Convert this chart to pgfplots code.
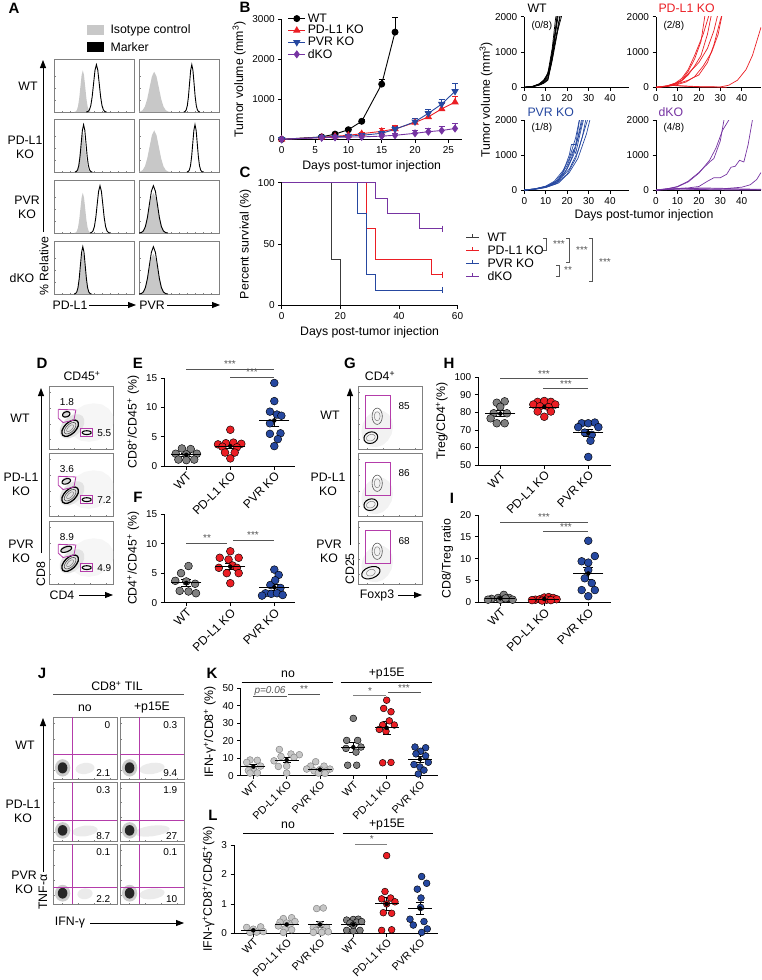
\documentclass[border=0pt]{standalone}
\usepackage{pgfplots}
\pgfplotsset{compat=1.18}
\usepackage{pgfplotstable}
\usepackage{fontspec}
\setmainfont{Liberation Sans}
\usetikzlibrary{arrows.meta}

\definecolor{kored}{RGB}{235,30,36}
\definecolor{koblue}{RGB}{38,72,160}
\definecolor{kopurp}{RGB}{118,52,162}
\definecolor{gatec}{RGB}{180,60,170}
\definecolor{isog}{RGB}{200,200,200}
\definecolor{wtg}{RGB}{128,128,128}
\definecolor{nog}{RGB}{198,198,198}
\definecolor{sigg}{RGB}{85,85,85}
\definecolor{survwt}{RGB}{60,60,60}

\newcommand{\fT}{\fontsize{10}{11}\selectfont}
\newcommand{\fA}{\fontsize{12.3}{14}\selectfont}
\newcommand{\fC}{\fontsize{12}{13}\selectfont}
\newcommand{\fS}{\fontsize{10.8}{12}\selectfont}
\newcommand{\fN}{\fontsize{10}{11}\selectfont}
\newcommand{\fP}{\fontsize{15}{17}\selectfont\bfseries}

\pgfplotstableread{
t y
-3.6 0
-3 0.011
-2.5 0.044
-2 0.135
-1.5 0.325
-1 0.607
-0.5 0.882
0 1
0.5 0.882
1 0.607
1.5 0.325
2 0.135
2.5 0.044
3 0.011
3.6 0
}\peak

\pgfplotstableread{
u v
1 0
0.92 0.38
0.71 0.71
0.38 0.92
0 1
-0.38 0.92
-0.71 0.71
-0.92 0.38
-1 0
-0.92 -0.38
-0.71 -0.71
-0.38 -0.92
0 -1
0.38 -0.92
0.71 -0.71
0.92 -0.38
1 0
}\blob

\pgfplotsset{
 prism/.style={scale only axis, axis lines=left, axis line style={-, line width=0.75pt},
  tick align=outside, major tick length=3.5pt, tick style={black, line width=0.7pt},
  ticklabel style={font=\fT}, label style={font=\fA},
  /pgf/number format/assume math mode=true, /pgf/number format/1000 sep={}, clip=false},
 hist/.style={scale only axis, width=80pt, height=53pt, xmin=0, xmax=1, ymin=0, ymax=1.12,
  axis line style={draw=gray, line width=0.5pt}, xtick={0.1,0.2,...,0.9}, ytick={0.25,0.5,0.75},
  xticklabels={}, yticklabels={}, tick align=inside, major tick length=1.5pt,
  tick style={gray, line width=0.4pt}, xtick pos=bottom, ytick pos=left},
 flow/.style={scale only axis, xmin=0, xmax=1, ymin=0, ymax=1,
  axis line style={draw=gray, line width=0.5pt}, xtick={0.15,0.4,0.65,0.9}, ytick={0.15,0.4,0.65,0.9},
  xticklabels={}, yticklabels={}, tick align=inside, major tick length=1.5pt,
  tick style={gray, line width=0.4pt}, xtick pos=bottom, ytick pos=left},
 dot/.style 2 args={only marks, mark=*, mark size=3.9pt, mark options={fill=#1, draw=#2, line width=0.45pt}},
 sdot/.style 2 args={only marks, mark=*, mark size=3.4pt, mark options={fill=#1, draw=#2, line width=0.45pt}},
 spag/.style={prism, clip=true, clip mode=individual, width=105pt, xmin=0, xmax=49, ymin=0, ymax=2000,
  xtick={0,10,...,40}, ytick={0,1000,2000}},
 cat/.style={prism, xtick={0,1,2}, xticklabels={WT,PD-L1 KO,PVR KO},
  xticklabel style={rotate=45, anchor=north east, font=\fC, inner sep=1pt}},
 cat6/.style={prism, xtick={0,1,2,3,4,5}, xticklabels={WT,PD-L1 KO,PVR KO,WT,PD-L1 KO,PVR KO},
  xticklabel style={rotate=45, anchor=north east, font=\fS, inner sep=0.5pt}},
}

\newcommand{\blobp}[6]{\addplot[#6] table[x expr={#1+#3*\thisrow{u}*cos(#5)-#4*\thisrow{v}*sin(#5)}, y expr={#2+#3*\thisrow{u}*sin(#5)+#4*\thisrow{v}*cos(#5)}]{\blob};}

\newcommand{\histo}[7]{%
\begin{axis}[hist, at={(#1pt,-#2pt)}, anchor=north west]
\addplot[fill=isog, draw=none] table[x expr={#3+#4*\thisrow{t}}, y expr={#7*\thisrow{y}}]{\peak};
\addplot[black, line width=0.9pt] table[x expr={#5+#6*\thisrow{t}}, y=y]{\peak};
\end{axis}}

\newcommand{\msem}[5]{%
\addplot[black, only marks, mark=-, mark size=#4pt, mark options={line width=0.9pt}] coordinates {(#1,#2)};
\addplot[black, only marks, mark=none, error bars/.cd, y dir=both, y explicit, error bar style={line width=0.8pt}, error mark options={rotate=90, mark size=#5pt, line width=0.8pt}] coordinates {(#1,#2) +- (0,#3)};}

\newcommand{\dbox}[4]{%
\begin{axis}[flow, at={(49pt,-#1pt)}, anchor=north west, width=64pt, height=63pt]
\blobp{0.66}{0.42}{0.36}{0.3}{20}{fill=gray!7, draw=none}
\blobp{0.36}{0.36}{0.23}{0.15}{45}{fill=gray!22, draw=none}
\blobp{0.27}{0.56}{#4}{0.055}{20}{fill=gray!30, draw=none}
\blobp{0.33}{0.33}{0.16}{0.09}{45}{black, line width=1.3pt, smooth}
\blobp{0.33}{0.33}{0.115}{0.06}{45}{gray!60!black, line width=0.6pt, smooth}
\blobp{0.33}{0.33}{0.07}{0.032}{45}{gray, line width=0.5pt, smooth}
\blobp{0.27}{0.55}{#4}{0.04}{20}{black, line width=1.1pt, smooth}
\blobp{0.59}{0.26}{0.07}{0.03}{0}{black, line width=1.1pt, smooth}
\addplot[gatec, line width=0.8pt] coordinates {(0.145,0.63)(0.42,0.62)(0.39,0.46)(0.22,0.42)(0.145,0.49)(0.145,0.63)};
\addplot[gatec, line width=0.8pt] coordinates {(0.495,0.195)(0.68,0.195)(0.68,0.33)(0.495,0.33)(0.495,0.195)};
\node[font=\fN] at (axis cs:0.28,0.74) {#2};
\node[font=\fN, anchor=west] at (axis cs:0.7,0.26) {#3};
\end{axis}}

\newcommand{\gbox}[3]{%
\begin{axis}[flow, at={(358pt,-#1pt)}, anchor=north west, width=64pt, height=63pt]
\blobp{0.3}{0.32}{0.3}{0.24}{70}{fill=gray!10, draw=none}
\blobp{0.2}{0.18}{#3}{0.09}{20}{black, line width=1pt, smooth}
\blobp{0.2}{0.18}{0.07}{0.05}{20}{gray, line width=0.5pt, smooth}
\blobp{0.3}{0.52}{0.08}{0.13}{0}{gray!70!black, line width=0.6pt, smooth}
\blobp{0.3}{0.52}{0.045}{0.07}{0}{gray, line width=0.5pt, smooth}
\addplot[gatec, line width=0.8pt] coordinates {(0.12,0.32)(0.5,0.32)(0.5,0.85)(0.12,0.85)(0.12,0.32)};
\node[font=\fN] at (axis cs:0.72,0.68) {#2};
\end{axis}}

\newcommand{\jbox}[7]{%
\begin{axis}[flow, at={(#1pt,-#2pt)}, anchor=north west, width=64pt, height=#3pt]
\blobp{0.5}{0.17}{#7}{0.09}{8}{fill=gray!16, draw=none}
\blobp{0.15}{0.18}{0.12}{0.14}{0}{fill=gray!40, draw=none}
\blobp{0.15}{0.18}{0.075}{0.09}{0}{fill=black!85, draw=none}
\addplot[gatec, line width=0.8pt] coordinates {(0.3,0)(0.3,1)};
\addplot[gatec, line width=0.8pt] coordinates {(0,#4)(1,#4)};
\node[font=\fN, anchor=east] at (axis cs:0.95,0.87) {#5};
\node[font=\fN, anchor=east] at (axis cs:0.95,0.09) {#6};
\end{axis}}

\begin{document}
\begin{tikzpicture}[font=\fA]
\path[use as bounding box] (0pt,0pt) rectangle (761pt,-980pt);

% ---------------- A histograms
\histo{54}{59}{0.36}{0.03}{0.53}{0.035}{0.88}
\histo{139}{59}{0.19}{0.058}{0.66}{0.028}{0.85}
\histo{54}{119}{0.36}{0.03}{0.37}{0.03}{0.85}
\histo{139}{119}{0.19}{0.058}{0.70}{0.028}{0.88}
\histo{54}{180}{0.36}{0.03}{0.575}{0.035}{0.85}
\histo{139}{180}{0.18}{0.055}{0.18}{0.05}{0.85}
\histo{54}{241}{0.36}{0.03}{0.36}{0.03}{0.9}
\histo{139}{241}{0.18}{0.055}{0.18}{0.05}{0.85}

% ---------------- B main
\begin{axis}[prism, at={(281.7pt,-139.3pt)}, anchor=south west, width=180pt, height=120pt,
 xmin=0, xmax=27, ymin=0, ymax=3000, xtick={0,5,...,25}, ytick={0,1000,2000,3000},
 xlabel={Days post-tumor injection}, ylabel={Tumor volume (mm\textsuperscript{3})},
 legend style={at={(0.03,1.07)}, anchor=north west, draw=none, fill=none, font=\fA, row sep=-2.2pt, inner sep=0.5pt},
 legend cell align=left]
\addplot[black, line width=0.9pt, mark=*, mark size=3pt, error bars/.cd, y dir=plus, y explicit, error bar style={black,line width=0.8pt}, error mark options={rotate=90, mark size=3pt, black}]
 coordinates {(0,0) +- (0,0) (6,60) +- (0,15) (8,130) +- (0,25) (10,240) +- (0,40) (12,450) +- (0,50) (15,1380) +- (0,120) (17,2680) +- (0,370)};
\addplot[kored, line width=0.9pt, mark=triangle*, mark size=3.4pt, error bars/.cd, y dir=plus, y explicit, error bar style={kored,line width=0.8pt}, error mark options={rotate=90, mark size=3pt, kored}]
 coordinates {(0,0) +- (0,0) (6,50) +- (0,15) (8,75) +- (0,25) (10,100) +- (0,35) (12,140) +- (0,45) (15,200) +- (0,70) (17,260) +- (0,90) (20,420) +- (0,110) (22,560) +- (0,110) (24,760) +- (0,140) (26,930) +- (0,160)};
\addplot[koblue, line width=0.9pt, mark=triangle*, mark size=3.4pt, mark options={rotate=180}, error bars/.cd, y dir=plus, y explicit, error bar style={koblue,line width=0.8pt}, error mark options={rotate=90, mark size=3pt, koblue}]
 coordinates {(0,0) +- (0,0) (6,50) +- (0,20) (8,60) +- (0,25) (10,80) +- (0,30) (12,100) +- (0,40) (15,150) +- (0,50) (17,250) +- (0,70) (20,440) +- (0,90) (22,650) +- (0,110) (24,880) +- (0,130) (26,1200) +- (0,200)};
\addplot[kopurp, line width=0.9pt, mark=diamond*, mark size=3.4pt, error bars/.cd, y dir=plus, y explicit, error bar style={kopurp,line width=0.8pt}, error mark options={rotate=90, mark size=3pt, kopurp}]
 coordinates {(0,0) +- (0,0) (6,40) +- (0,15) (8,50) +- (0,20) (10,55) +- (0,30) (12,60) +- (0,40) (15,80) +- (0,50) (17,100) +- (0,60) (20,150) +- (0,80) (22,190) +- (0,100) (24,220) +- (0,120) (26,270) +- (0,130)};
\legend{WT, PD-L1 KO, PVR KO, dKO}
\end{axis}

% ---------------- B spaghetti
\begin{axis}[spag, at={(524.3pt,-87.3pt)}, anchor=south west, height=70.6pt]
\addplot[black, line width=0.7pt] coordinates {(0,0)(4,20)(7,80)(9,150)(11,300)(13,900)(14.5,1500)(16,2100)};
\addplot[black, line width=0.7pt] coordinates {(0,0)(4,25)(7,90)(9,170)(11,350)(13,1000)(15,1800)(16,2300)};
\addplot[black, line width=0.7pt] coordinates {(0,0)(4,15)(7,70)(9,130)(11,250)(12.5,700)(14,1300)(15.5,2100)};
\addplot[black, line width=0.7pt] coordinates {(0,0)(4,30)(7,100)(9,200)(11,400)(13,1100)(14.5,1900)(15,2100)};
\addplot[black, line width=0.7pt] coordinates {(0,0)(4,20)(7,60)(9,110)(11,200)(13,750)(15,1400)(17,2100)};
\addplot[black, line width=0.7pt] coordinates {(0,0)(4,18)(7,75)(9,120)(11,230)(13,800)(15,1500)(16.5,2000)(17,2200)};
\addplot[black, line width=0.7pt] coordinates {(0,0)(4,22)(7,85)(9,160)(12,500)(14,1200)(16,1700)(18,2150)};
\addplot[black, line width=0.7pt] coordinates {(0,0)(4,26)(7,95)(10,250)(12,600)(14,1400)(15.5,2100)};
\end{axis}
\begin{axis}[spag, at={(656pt,-87.3pt)}, anchor=south west, height=70.6pt]
\addplot[kored, line width=0.7pt] coordinates {(0,0)(5,30)(9,100)(12,200)(15,450)(18,800)(21,1300)(23,2100)};
\addplot[kored, line width=0.7pt] coordinates {(0,0)(5,40)(9,120)(12,250)(15,500)(18,900)(22,1500)(25,2100)};
\addplot[kored, line width=0.7pt] coordinates {(0,0)(5,25)(9,90)(12,180)(15,350)(18,600)(21,900)(24,1500)(26,2100)};
\addplot[kored, line width=0.7pt] coordinates {(0,0)(5,35)(9,110)(12,200)(16,450)(20,700)(24,1100)(27,1600)(29,2100)};
\addplot[kored, line width=0.7pt] coordinates {(0,0)(5,20)(10,80)(14,150)(18,300)(22,600)(26,1000)(29,1500)(31,2100)};
\addplot[kored, line width=0.7pt] coordinates {(0,0)(5,30)(10,100)(15,200)(20,350)(24,700)(27,1200)(30,1900)(31,2100)};
\addplot[kored, line width=0.7pt] coordinates {(0,0)(8,60)(12,40)(20,20)(30,10)(34,60)(38,200)(42,500)(45,900)(49,1700)};
\addplot[kored, line width=0.7pt] coordinates {(0,0)(8,50)(14,30)(20,10)(30,5)(33,0)};
\end{axis}
\begin{axis}[spag, at={(524.3pt,-190pt)}, anchor=south west, height=70pt]
\addplot[koblue, line width=0.7pt] coordinates {(0,0)(5,30)(10,90)(14,200)(18,500)(21,1000)(22,1300)(24,1300)(26,2100)};
\addplot[koblue, line width=0.7pt] coordinates {(0,0)(5,35)(10,110)(14,250)(18,550)(21,900)(24,1500)(26,2100)};
\addplot[koblue, line width=0.7pt] coordinates {(0,0)(5,25)(10,80)(15,200)(19,500)(22,900)(25,1500)(27,2100)};
\addplot[koblue, line width=0.7pt] coordinates {(0,0)(5,30)(10,100)(15,230)(20,600)(23,1000)(26,1700)(27.5,2100)};
\addplot[koblue, line width=0.7pt] coordinates {(0,0)(5,20)(10,70)(15,180)(20,450)(24,900)(27,1500)(29,2100)};
\addplot[koblue, line width=0.7pt] coordinates {(0,0)(5,28)(10,95)(16,250)(21,600)(25,1100)(28,1700)(30,2100)};
\addplot[koblue, line width=0.7pt] coordinates {(0,0)(5,22)(10,75)(16,200)(21,500)(25,900)(29,1600)(31,2100)};
\addplot[koblue, line width=0.7pt] coordinates {(0,0)(5,30)(11,120)(16,300)(20,700)(23,1150)(24,1050)(26,1600)(28,2100)};
\end{axis}
\begin{axis}[spag, at={(656pt,-190pt)}, anchor=south west, height=70pt]
\addplot[kopurp, line width=0.7pt] coordinates {(0,0)(5,30)(10,100)(15,250)(20,500)(25,800)(27,900)(30,1400)(32,2100)};
\addplot[kopurp, line width=0.7pt] coordinates {(0,0)(5,25)(10,90)(15,230)(20,480)(25,850)(28,1200)(31,1700)(35,2100)};
\addplot[kopurp, line width=0.7pt] coordinates {(0,0)(5,20)(10,40)(15,60)(20,100)(24,250)(27,350)(30,350)(33,450)(35,650)(37,680)(39,850)(41,800)(43,1300)(45,2000)(45.5,2100)};
\addplot[kopurp, line width=0.7pt] coordinates {(0,0)(10,30)(20,20)(30,30)(36,60)(40,80)(44,150)(47,300)(49,500)};
\addplot[kopurp, line width=0.7pt] coordinates {(0,0)(8,60)(15,20)(25,10)(35,0)(49,0)};
\addplot[kopurp, line width=0.7pt] coordinates {(0,0)(10,20)(20,60)(30,50)(40,30)(49,20)};
\addplot[kopurp, line width=0.7pt] coordinates {(0,0)(12,50)(20,40)(35,20)(49,10)};
\end{axis}

% ---------------- C survival
\begin{axis}[prism, at={(281.7pt,-305.3pt)}, anchor=south west, width=175.8pt, height=122.6pt,
 xmin=0, xmax=60, ymin=0, ymax=100, xtick={0,20,40,60}, ytick={0,50,100},
 xlabel={Days post-tumor injection}, ylabel={Percent survival (\%)}]
\addplot[survwt, line width=0.9pt, const plot] coordinates {(0,100)(17,37.5)(20,0)};
\addplot[kored, line width=0.9pt, const plot] coordinates {(0,100)(29,62.5)(32,37.5)(51,25)(55,25)};
\addplot[koblue, line width=0.9pt, const plot] coordinates {(0,100)(26,75)(29,25)(32,12.5)(55,12.5)};
\addplot[kopurp, line width=0.9pt, const plot] coordinates {(0,100)(32,87.5)(36,75)(47,62.5)(55,62.5)};
\addplot[kored, only marks, mark=|, mark size=3pt, mark options={line width=0.8pt}] coordinates {(55,25)};
\addplot[koblue, only marks, mark=|, mark size=3pt, mark options={line width=0.8pt}] coordinates {(55,12.5)};
\addplot[kopurp, only marks, mark=|, mark size=3pt, mark options={line width=0.8pt}] coordinates {(55,62.5)};
\end{axis}

% ---------------- D, G flow
\dbox{386}{1.8}{5.5}{0.06}
\dbox{453}{3.6}{7.2}{0.07}
\dbox{521}{8.9}{4.9}{0.09}
\gbox{386}{85}{0.11}
\gbox{453}{86}{0.11}
\gbox{521}{68}{0.15}

% ---------------- E
\begin{axis}[cat, at={(164.3pt,-466pt)}, anchor=south west, width=130.7pt, height=87.7pt,
 xmin=-0.5, xmax=2.47, ymin=0, ymax=15, ytick={0,5,10,15},
 ylabel={CD8\textsuperscript{+}/CD45\textsuperscript{+} (\%)}]
\addplot[dot={wtg}{black}] coordinates {(-0.10,3.0)(0.10,2.9)(-0.24,2.1)(0.0,2.0)(0.24,2.1)(-0.18,1.1)(0.0,1.0)(0.18,1.1)};
\addplot[dot={kored}{black}] coordinates {(1.0,6.2)(0.72,3.7)(0.9,3.9)(1.07,4.0)(1.25,3.8)(0.82,3.3)(1.15,3.2)(0.88,2.3)(1.1,2.3)(1.0,1.3)};
\addplot[dot={koblue}{black}] coordinates {(2.0,14.2)(2.0,11.1)(1.9,9.3)(2.06,8.8)(2.16,8.6)(1.9,7.3)(1.9,5.5)(2.14,5.6)(2.08,4.6)(2.0,3.4)};
\msem{0}{1.91}{0.26}{15}{5}
\msem{1}{3.4}{0.4}{15}{5}
\msem{2}{7.8}{1.0}{15}{5}
\end{axis}

% ---------------- F
\begin{axis}[cat, at={(164.3pt,-602.7pt)}, anchor=south west, width=130.7pt, height=88.7pt,
 xmin=-0.5, xmax=2.47, ymin=0, ymax=15, ytick={0,5,10,15},
 ylabel={CD4\textsuperscript{+}/CD45\textsuperscript{+} (\%)}]
\addplot[dot={wtg}{black}] coordinates {(0.05,6.2)(-0.12,5.0)(-0.25,3.7)(0.0,3.6)(0.2,3.2)(-0.15,2.0)(0.05,1.9)(0.22,1.6)};
\addplot[dot={kored}{black}] coordinates {(1.0,8.7)(0.76,7.6)(1.19,7.6)(0.96,7.3)(1.05,6.3)(0.74,5.9)(1.15,5.9)(0.92,5.0)(1.19,5.0)(1.0,3.3)};
\addplot[dot={koblue}{black}] coordinates {(2.0,5.6)(2.1,4.7)(1.91,3.0)(2.14,2.5)(1.8,1.6)(1.93,1.5)(2.06,1.6)(2.19,1.3)(2.02,3.8)(1.72,1.2)};
\msem{0}{3.35}{0.55}{15}{5}
\msem{1}{6.1}{0.5}{15}{5}
\msem{2}{2.6}{0.45}{15}{5}
\end{axis}

% ---------------- H
\begin{axis}[cat, at={(478.3pt,-465pt)}, anchor=south west, width=132.4pt, height=87.7pt,
 xmin=-0.5, xmax=2.51, ymin=50, ymax=100, ytick={50,60,...,100},
 ylabel={Treg/CD4\textsuperscript{+}(\%)}]
\addplot[dot={wtg}{black}] coordinates {(-0.08,85.5)(0.1,86.3)(0.0,83.2)(-0.15,79.5)(0.15,79.5)(-0.22,76.6)(-0.08,73.8)(0.1,73.8)};
\addplot[dot={kored}{black}] coordinates {(0.85,86)(1.0,86.5)(1.15,86)(0.75,84.5)(1.25,84.5)(0.9,83.5)(1.1,83)(0.85,80.5)(1.15,80.5)(1.0,77.5)};
\addplot[dot={koblue}{black}] coordinates {(1.85,73.8)(2.0,73.8)(2.15,74.2)(1.77,71.6)(2.23,71.6)(1.92,68.5)(2.08,67.2)(2.05,63.8)(2.0,54.6)};
\msem{0}{79.3}{1.6}{15}{5}
\msem{1}{83.0}{0.9}{15}{5}
\msem{2}{68.3}{2.0}{15}{5}
\end{axis}

% ---------------- I
\begin{axis}[cat, at={(478.3pt,-602.3pt)}, anchor=south west, width=132.4pt, height=87.3pt,
 xmin=-0.5, xmax=2.51, ymin=0, ymax=20, ytick={0,5,...,20},
 ylabel={CD8/Treg ratio}]
\addplot[dot={wtg}{black}] coordinates {(-0.2,0.8)(-0.05,1.0)(0.08,1.7)(0.2,1.0)(0.28,0.6)(-0.28,0.6)(0.0,0.6)(0.12,0.9)};
\addplot[dot={kored}{black}] coordinates {(0.8,0.6)(0.9,0.7)(1.0,1.1)(1.1,1.2)(1.2,1.0)(1.28,0.7)(0.72,0.5)(1.05,0.6)(1.15,0.5)(0.95,0.4)};
\addplot[dot={koblue}{black}] coordinates {(2.0,14.1)(2.15,10.6)(1.85,9.4)(2.0,9.1)(2.0,7.4)(1.92,5.5)(2.08,4.4)(1.85,2.8)(2.15,2.8)(2.0,1.4)};
\msem{0}{0.9}{0.13}{15}{5}
\msem{1}{0.75}{0.08}{15}{5}
\msem{2}{6.6}{1.3}{15}{5}
\end{axis}

% ---------------- J
\jbox{53}{717}{62}{0.4}{0}{2.1}{0.15}
\jbox{120}{717}{62}{0.4}{0.3}{9.4}{0.2}
\jbox{53}{782}{59}{0.35}{0.3}{8.7}{0.2}
\jbox{120}{782}{59}{0.35}{1.9}{27}{0.28}
\jbox{53}{844}{60}{0.28}{0.1}{2.2}{0.12}
\jbox{120}{844}{60}{0.28}{0.1}{10}{0.2}

% ---------------- K
\begin{axis}[cat6, at={(240.7pt,-775.7pt)}, anchor=south west, width=197.6pt, height=87.4pt,
 xmin=-0.38, xmax=5.55, ymin=0, ymax=50, ytick={0,10,...,50},
 ylabel={IFN-γ\textsuperscript{+}/CD8\textsuperscript{+} (\%)}]
\addplot[sdot={nog}{gray}] coordinates {(-0.1,9.0)(0.12,8.8)(-0.2,7.6)(0.22,5.5)(0.0,4.0)(-0.15,3.0)(-0.1,1.5)(0.12,1.6)};
\addplot[sdot={nog}{gray}] coordinates {(0.78,15)(1.13,12.4)(1.38,12.0)(0.83,11.0)(1.22,10.5)(0.62,8.5)(1.0,5.5)(0.75,5.3)(1.0,1.5)};
\addplot[sdot={nog}{gray}] coordinates {(1.87,8.0)(1.72,5.5)(2.12,5.5)(2.0,3.5)(1.6,3.8)(2.3,3.8)(1.82,2.8)(2.18,2.6)(1.95,1.5)(2.15,1.3)};
\addplot[sdot={wtg}{black}] coordinates {(3.0,32.8)(2.8,20.2)(3.13,20.2)(3.23,16.4)(2.78,15.6)(3.08,13.5)(2.83,6.0)(3.1,6.0)};
\addplot[sdot={kored}{black}] coordinates {(4.0,43.2)(3.91,38.5)(4.13,36.6)(4.08,31.4)(3.88,29)(4.23,29)(3.78,26.5)(3.98,25.4)(3.88,7.4)(4.13,7.6)};
\addplot[sdot={koblue}{black}] coordinates {(4.85,16.4)(5.17,16.0)(5.02,14.0)(5.17,11.4)(4.82,6.4)(5.25,7.7)(5.0,5.0)(5.12,3.2)(4.95,1.0)(4.88,12.5)};
\msem{0}{5.2}{1.0}{12}{4}
\msem{1}{9.0}{1.4}{12}{4}
\msem{2}{3.5}{0.6}{12}{4}
\msem{3}{16.3}{3.0}{12}{4}
\msem{4}{27.4}{3.6}{12}{4}
\msem{5}{9.5}{1.8}{12}{4}
\end{axis}

% ---------------- L
\begin{axis}[cat6, at={(234pt,-933.3pt)}, anchor=south west, width=204.3pt, height=88.3pt,
 xmin=-0.58, xmax=5.55, ymin=0, ymax=3, ytick={0,1,2,3},
 ylabel={IFN-γ\textsuperscript{+}CD8\textsuperscript{+}/CD45\textsuperscript{+}(\%)}]
\addplot[sdot={nog}{gray}] coordinates {(-0.2,0.2)(0.0,0.14)(0.22,0.22)(-0.1,0.03)(0.1,0.04)(0.3,0.06)};
\addplot[sdot={nog}{gray}] coordinates {(0.9,0.5)(1.15,0.53)(1.25,0.4)(0.8,0.38)(1.0,0.35)(1.1,0.28)(0.75,0.25)(0.95,0.15)(1.15,0.12)(0.9,0.03)};
\addplot[sdot={nog}{gray}] coordinates {(1.9,0.84)(2.1,0.86)(2.0,0.3)(1.8,0.2)(2.2,0.2)(1.88,0.1)(2.1,0.08)(1.8,0.03)(2.05,0.03)(2.25,0.05)};
\addplot[sdot={wtg}{black}] coordinates {(2.8,0.45)(3.0,0.47)(3.15,0.48)(2.9,0.35)(3.1,0.38)(3.25,0.4)(2.8,0.1)(3.0,0.08)(3.2,0.1)(3.0,0.28)};
\addplot[sdot={kored}{black}] coordinates {(4.0,2.64)(3.95,1.42)(3.85,1.17)(4.12,1.2)(4.25,1.07)(4.15,0.68)(3.85,0.1)(4.15,0.12)(4.0,1.0)(3.9,0.7)};
\addplot[sdot={koblue}{black}] coordinates {(5.05,1.93)(5.2,1.7)(4.92,1.5)(5.03,1.2)(5.02,0.88)(4.7,0.48)(5.12,0.4)(4.8,0.28)(5.22,0.15)(5.05,0.03)};
\msem{0}{0.1}{0.03}{12}{4}
\msem{1}{0.3}{0.05}{12}{4}
\msem{2}{0.3}{0.1}{12}{4}
\msem{3}{0.3}{0.05}{12}{4}
\msem{4}{1.0}{0.23}{12}{4}
\msem{5}{0.85}{0.21}{12}{4}
\end{axis}

% ---------------- annotations
\begin{scope}[x=1pt, y=-1pt]
% panel letters
\node[font=\fP] at (14,8) {A};
\node[font=\fP] at (245,7) {B};
\node[font=\fP] at (245,172) {C};
\node[font=\fP] at (42,363) {D};
\node[font=\fP] at (138,363) {E};
\node[font=\fP] at (138,497) {F};
\node[font=\fP] at (350,363) {G};
\node[font=\fP] at (449,363) {H};
\node[font=\fP] at (452,498) {I};
\node[font=\fP] at (42,673) {J};
\node[font=\fP] at (212,673) {K};
\node[font=\fP] at (213,815) {L};
% A legend and labels
\fill[isog] (87,25) rectangle (104,35);
\node[anchor=west] at (107,30) {Isotype control};
\fill[black] (87,42) rectangle (104,52);
\node[anchor=west] at (107,47) {Marker};
\node at (28,86) {WT};
\node[align=center] at (25,147) {PD-L1\\KO};
\node[align=center] at (27,207) {PVR\\KO};
\node at (22,278) {dKO};
\draw[line width=0.8pt, -{Triangle[length=8pt,width=6pt]}] (43,232) -- (43,60);
\node[rotate=90] at (44,266) {\% Relative};
\node at (70,305) {PD-L1};
\draw[line width=0.8pt, -{Triangle[length=8pt,width=6pt]}] (89,305) -- (136,305);
\node at (152,305) {PVR};
\draw[line width=0.8pt, -{Triangle[length=8pt,width=6pt]}] (167,305) -- (220,305);
% B spaghetti labels
\node[anchor=west] at (524,8) {WT};
\node[anchor=west, font=\fN] at (528,26) {(0/8)};
\node[anchor=west, text=kored] at (655,8) {PD-L1 KO};
\node[anchor=west, font=\fN] at (660,26) {(2/8)};
\node[anchor=west, text=koblue] at (524,112) {PVR KO};
\node[anchor=west, font=\fN] at (528,128) {(1/8)};
\node[anchor=west, text=kopurp] at (655,112) {dKO};
\node[anchor=west, font=\fN] at (660,128) {(4/8)};
\node[rotate=90] at (486,100) {Tumor volume (mm\textsuperscript{3})};
\node at (644,215) {Days post-tumor injection};
% C legend
\foreach \yy/\cc/\lab in {237.3/survwt/WT, 250.3/kored/PD-L1 KO, 263.3/koblue/PVR KO, 276.3/kopurp/dKO}{
  \draw[\cc, line width=0.9pt] (466,\yy) -- (479,\yy);
  \draw[\cc, line width=0.8pt] (472.5,\yy) -- (472.5,\yy-3);
  \node[anchor=west] at (484,\yy) {\lab};
}
\draw[sigg, line width=0.7pt] (543,238) -- (546.7,238) -- (546.7,250) -- (543,250);
\node[sigg, font=\fN] at (559,244) {***};
\draw[sigg, line width=0.7pt] (566,238) -- (569.5,238) -- (569.5,262) -- (566,262);
\node[sigg, font=\fN] at (582,250) {***};
\draw[sigg, line width=0.7pt] (589,238) -- (592.7,238) -- (592.7,281) -- (589,281);
\node[sigg, font=\fN] at (605,262) {***};
\draw[sigg, line width=0.7pt] (556,265) -- (559.5,265) -- (559.5,276) -- (556,276);
\node[sigg, font=\fN] at (568,270) {**};
% D labels
\node at (82,376) {CD45\textsuperscript{+}};
\node at (20,418) {WT};
\node[align=center] at (21,484) {PD-L1\\KO};
\node[align=center] at (21,551) {PVR\\KO};
\draw[line width=0.8pt, -{Triangle[length=8pt,width=6pt]}] (41,553) -- (41,388);
\node[rotate=90] at (41,574) {CD8};
\node at (62,595) {CD4};
\draw[line width=0.8pt, -{Triangle[length=8pt,width=6pt]}] (79,595) -- (113,595);
% G labels
\node at (380,376) {CD4\textsuperscript{+}};
\node at (330,415) {WT};
\node[align=center] at (328,484) {PD-L1\\KO};
\node[align=center] at (329,551) {PVR\\KO};
\draw[line width=0.8pt, -{Triangle[length=8pt,width=6pt]}] (350,545) -- (350,388);
\node[rotate=90] at (350,569) {CD25};
\node at (377,595) {Foxp3};
\draw[line width=0.8pt, -{Triangle[length=8pt,width=6pt]}] (398,595) -- (422,595);
% E F H I significance
\draw[sigg, line width=0.7pt] (186,369) -- (274,369);
\node[sigg, font=\fN] at (230,364) {***};
\draw[sigg, line width=0.7pt] (230,377.3) -- (274,377.3);
\node[sigg, font=\fN] at (252,372.3) {***};
\draw[sigg, line width=0.7pt] (186,543) -- (227,543);
\node[sigg, font=\fN] at (207,538) {**};
\draw[sigg, line width=0.7pt] (233,540) -- (274,540);
\node[sigg, font=\fN] at (253,535) {***};
\draw[sigg, line width=0.7pt] (500,378.7) -- (588,378.7);
\node[sigg, font=\fN] at (544,373.7) {***};
\draw[sigg, line width=0.7pt] (543,388.7) -- (588,388.7);
\node[sigg, font=\fN] at (566,383.7) {***};
\draw[sigg, line width=0.7pt] (500,522.3) -- (588,522.3);
\node[sigg, font=\fN] at (544,517.3) {***};
\draw[sigg, line width=0.7pt] (543,531.7) -- (588,531.7);
\node[sigg, font=\fN] at (566,526.7) {***};
% J labels
\node at (117,686) {CD8\textsuperscript{+} TIL};
\draw[sigg, line width=0.7pt] (53,694) -- (184,694);
\node at (85,708) {no};
\node at (152,708) {+p15E};
\node at (25,745) {WT};
\node[align=center] at (23,811) {PD-L1\\KO};
\node[align=center] at (24,882) {PVR\\KO};
\draw[line width=0.8pt, -{Triangle[length=8pt,width=6pt]}] (43,872) -- (43,718);
\node[rotate=90] at (43,892) {TNF-α};
\node at (70,923) {IFN-γ};
\draw[line width=0.8pt, -{Triangle[length=8pt,width=6pt]}] (90,923) -- (184,923);
% K annotations
\node at (288,674) {no};
\draw[black, line width=0.7pt] (241.7,682.3) -- (333.3,682.3);
\node at (386.7,674) {+p15E};
\draw[black, line width=0.7pt] (340.7,682.3) -- (432.3,682.3);
\node[font=\fN\itshape, sigg] at (270,691) {p=0.06};
\draw[sigg, line width=0.7pt] (253,696.7) -- (286.7,696.7);
\draw[sigg, line width=0.7pt] (288,694) -- (320,694);
\node[sigg, font=\fN] at (304,689) {**};
\draw[gray, line width=0.9pt] (353,695.7) -- (386,695.7);
\node[sigg, font=\fN] at (370,690.7) {*};
\draw[sigg, line width=0.7pt] (388,692.7) -- (420.7,692.7);
\node[sigg, font=\fN] at (404,687.7) {***};
% L annotations
\node at (288,825) {no};
\draw[black, line width=0.7pt] (243.3,833.3) -- (334,833.3);
\node at (387,825) {+p15E};
\draw[black, line width=0.7pt] (342.7,833.3) -- (433.3,833.3);
\draw[gray, line width=0.9pt] (355,844.3) -- (387.3,844.3);
\node[sigg, font=\fN] at (371.7,839.3) {*};
\end{scope}
\end{tikzpicture}
\end{document}
